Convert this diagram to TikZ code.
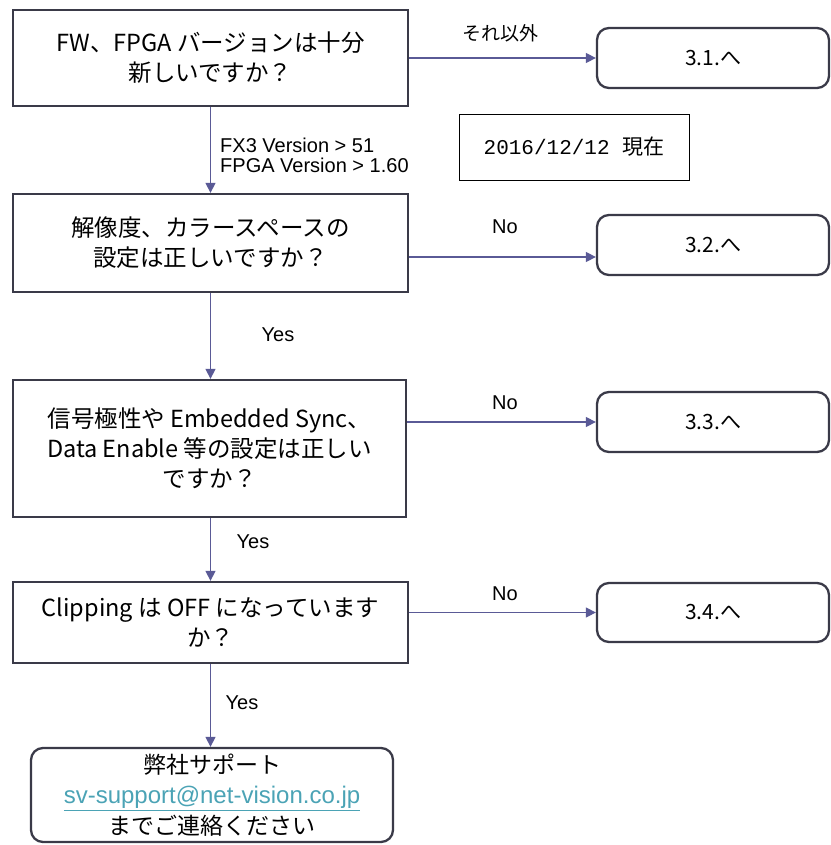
\documentclass[tikz,border=0pt]{standalone}
\usepackage{fontspec}
\setmainfont{Noto Sans CJK JP}
\newfontfamily\lat{Liberation Sans}
\newfontfamily\mono{Liberation Mono}
\usetikzlibrary{arrows.meta}
\definecolor{arr}{HTML}{5A5A96}
\definecolor{bd}{HTML}{3A3A48}
\definecolor{lnk}{HTML}{4BA3B5}
\begin{document}
\begin{tikzpicture}[x=1pt,y=-1pt,
  qbox/.style={draw=bd, line width=2.3pt, inner sep=0pt, align=center, text=black,
    font=\fontsize{23.5}{30}\selectfont},
  gobox/.style={draw=bd, line width=2.3pt, rounded corners=12pt, inner sep=0pt, align=center,
    font=\fontsize{23}{30.5}\selectfont},
  datebox/.style={draw=black, line width=0.8pt, inner sep=0pt, font=\fontsize{21}{24}\selectfont},
  arrowline/.style={draw=arr, line width=1.3pt, -{Triangle[length=10pt,width=10pt]}},
  lbl/.style={inner sep=0pt, font=\lat\fontsize{20}{20}\selectfont},
  jlbl/.style={inner sep=0pt, font=\fontsize{19}{20}\selectfont}]
\useasboundingbox (0,0) rectangle (830,845);

% question boxes
\node[qbox, minimum width=395pt, minimum height=96pt] (q1) at (210.5,58) {FW、FPGA バージョンは十分\\新しいですか？};
\node[qbox, minimum width=395pt, minimum height=98pt] (q2) at (210.5,243) {解像度、カラースペースの\\設定は正しいですか？};
\node[qbox, minimum width=393pt, minimum height=137pt] (q3) at (209.5,448.5) {信号極性や Embedded Sync、\\Data Enable 等の設定は正しい\\ですか？};
\node[qbox, minimum width=395pt, minimum height=81pt] (q4) at (210.5,622.5) {Clipping は OFF になっています\\か？};

% result boxes
\node[gobox, font=\fontsize{21}{24}\selectfont, minimum width=232pt, minimum height=60pt] (r1) at (713,58) {3.1.へ};
\node[gobox, font=\fontsize{21}{24}\selectfont, minimum width=232pt, minimum height=60pt] (r2) at (713,245) {3.2.へ};
\node[gobox, font=\fontsize{21}{24}\selectfont, minimum width=232pt, minimum height=60pt] (r3) at (713,422) {3.3.へ};
\node[gobox, font=\fontsize{21}{24}\selectfont, minimum width=232pt, minimum height=59pt] (r4) at (713,612.5) {3.4.へ};

% final box
\node[gobox, minimum width=362pt, minimum height=94pt] (fin) at (212,795) {弊社サポート\\{\lat\fontsize{24}{30.5}\selectfont\color{lnk}\underline{sv-support@net-vision.co.jp}}\\までご連絡ください};

% date box
\node[datebox, minimum width=230pt, minimum height=66pt] (date) at (574,147) {{\mono 2016/12/12 }現在};

% horizontal connectors
\draw[arrowline] (q1.east) -- (r1.west);
\draw[arrowline] ([yshift=-12pt]r2.west -| q2.east) -- ([yshift=-12pt]r2.west);
\draw[arrowline] (r3.west -| q3.east) -- (r3.west);
\draw[arrowline] (r4.west -| q4.east) -- (r4.west);

% vertical connectors
\draw[arrowline] (q1.south) -- (q1.south |- q2.north);
\draw[arrowline] (q2.south) -- (q2.south |- q3.north);
\draw[arrowline] (q3.south -| q2.south) -- (q2.south |- q4.north);
\draw[arrowline] (q4.south) -- (q4.south |- fin.north);

% labels
\node[jlbl] (l1) at (500,33) {それ以外};
\node[lbl, anchor=west, align=left] (l2) at (220,155) {FX3 Version > 51\\FPGA Version > 1.60};
\node[lbl] (l3) at (505,227) {No};
\node[lbl] (l4) at (278,335) {Yes};
\node[lbl] (l5) at (505,403) {No};
\node[lbl] (l6) at (253,542) {Yes};
\node[lbl] (l7) at (505,594) {No};
\node[lbl] (l8) at (242,703) {Yes};
\end{tikzpicture}
\end{document}
